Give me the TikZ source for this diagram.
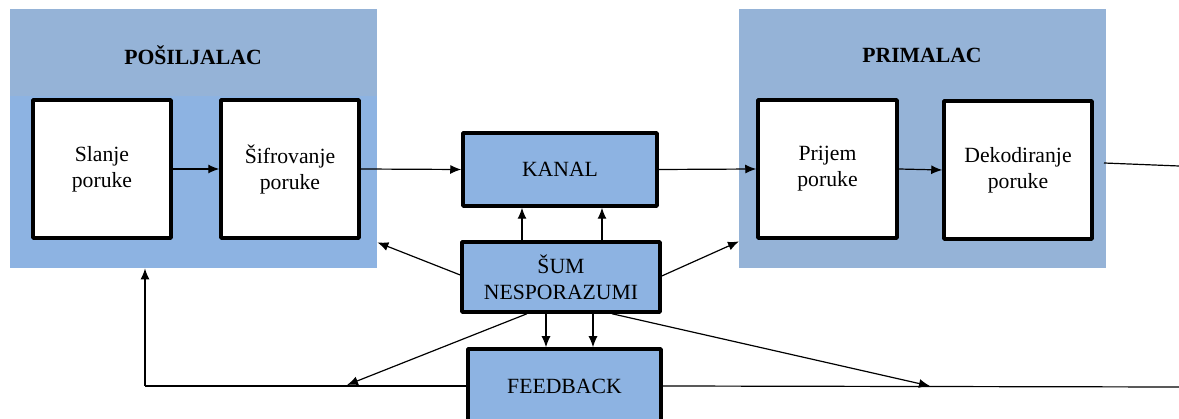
\documentclass[tikz,border=0pt]{standalone}
\usepackage{fontspec}
\setmainfont{Liberation Serif}
\usetikzlibrary{arrows.meta}

\definecolor{panelblue}{HTML}{95B3D7}
\definecolor{boxblue}{HTML}{8DB3E2}

\tikzset{
  every node/.style={font=\fontsize{21.7}{26}\selectfont},
  panel/.style={draw=none, fill=panelblue, rectangle, inner sep=0pt, anchor=north west},
  whitebox/.style={draw=black, line width=3.5pt, line join=round, fill=white, rectangle, align=center,
    inner sep=0pt, minimum width=138pt, minimum height=138pt},
  bluebox/.style={draw=black, line width=3.5pt, line join=round, fill=boxblue, rectangle, align=center, inner sep=0pt},
  title/.style={font=\fontsize{21.7}{26}\selectfont\bfseries},
  conn/.style={line width=1.2pt, -{Latex[length=11pt,width=9pt]}},
  plain/.style={line width=1.2pt}
}

\begin{document}
\begin{tikzpicture}[x=1pt, y=-1pt]
\useasboundingbox (0,0) rectangle (1179,419);

% sender and receiver panels
\node[panel, minimum width=367pt, minimum height=259pt] (lp) at (10,9) {};
\fill[boxblue] (10,96) rectangle (377,268);
\node[panel, minimum width=367pt, minimum height=259pt] (rp) at (739,9) {};

\node[title] (lpt) at (193,55) {POŠILJALAC};
\node[title] (rpt) at (922,55) {PRIMALAC};

% process boxes
\node[whitebox] (slanje) at (102,169) {Slanje\\poruke};
\node[whitebox] (sifr) at (290,169) {Šifrovanje\\poruke};
\node[whitebox, minimum width=139pt] (prijem) at (827.5,169) {Prijem\\poruke};
\node[whitebox, minimum width=148pt] (dekod) at (1018,170) {Dekodiranje\\poruke};

\node[bluebox, minimum width=194pt, minimum height=73pt] (kanal) at (560,169.5) {KANAL};
\node[bluebox, minimum width=198pt, minimum height=70pt] (sum) at (561,277) {ŠUM\\NESPORAZUMI};
\node[bluebox, minimum width=193pt, minimum height=74pt] (fb) at (564.5,386) {FEEDBACK};

% free ends
\coordinate (decOut) at (1104,163);
\coordinate (outA) at (1179,166);
\coordinate (fbLeft) at (145,386);
\coordinate (fbRight) at (1179,387);
\coordinate (tipL) at (347,385);
\coordinate (tipR) at (930,386);

% main flow
\draw[conn] (slanje.east) -- (sifr.west);
\draw[conn] (sifr.east) -- (kanal.west);
\draw[conn] (kanal.east) -- (prijem.west);
\draw[conn] (prijem.east) -- (dekod.west);
\draw[plain] (decOut) -- (outA);

% noise
\draw[conn] ([xshift=-39pt]sum.north) -- ([xshift=-39pt]sum.north |- kanal.south);
\draw[conn] ([xshift=41pt]sum.north) -- ([xshift=41pt]sum.north |- kanal.south);
\draw[conn] ([yshift=2pt]sum.west) -- ([yshift=26pt]lp.south east);
\draw[conn] ([yshift=1pt]sum.east) -- ([yshift=27pt]rp.south west);
\draw[conn] ([xshift=-15pt]sum.south) -- ([xshift=-15pt]sum.south |- fb.north);
\draw[conn] ([xshift=32pt]sum.south) -- ([xshift=32pt]sum.south |- fb.north);
\draw[conn] ([xshift=-34pt]sum.south) -- (tipL);
\draw[conn] ([xshift=51pt]sum.south) -- (tipR);

% feedback
\draw[plain] (fb.west) -- (fbLeft);
\draw[conn] (fbLeft) -- (fbLeft |- lp.south);
\draw[plain] (fb.east) -- (fbRight);
\end{tikzpicture}
\end{document}
